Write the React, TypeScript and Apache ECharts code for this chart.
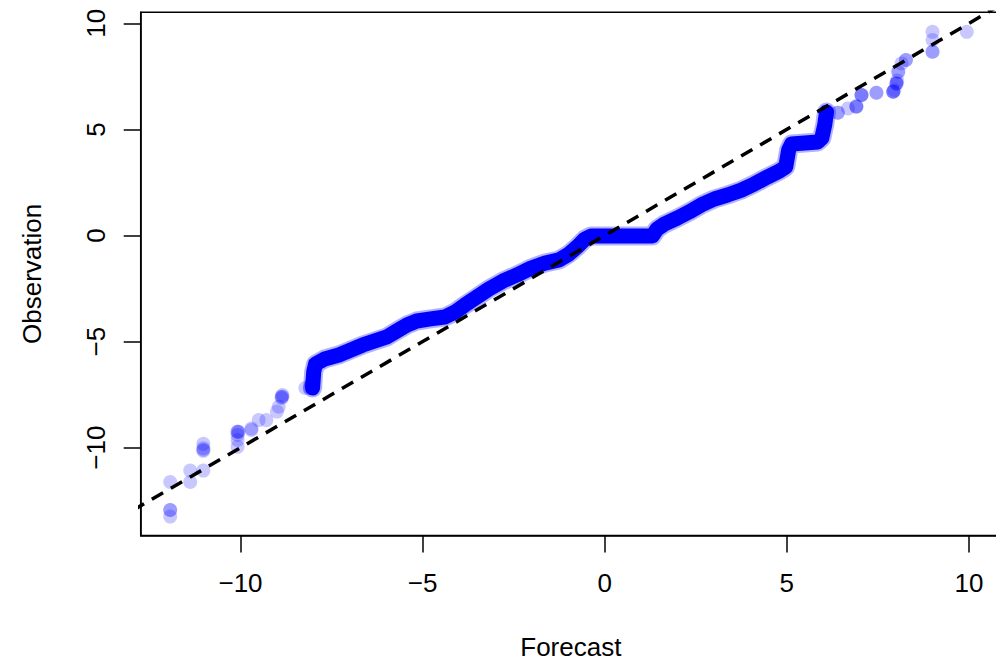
import React, { useEffect, useRef } from "react";
import * as echarts from "echarts";

// Dense part of the Q-Q curve (forecast quantile, observed quantile)
const fcstBand = [
  -8.02, -7.99, -7.94, -7.69, -7.3, -6.97, -6.64, -6.31, -5.98, -5.71, -5.43, -5.16, -4.78, -4.39,
  -4.11, -3.84, -3.51, -3.18, -2.79, -2.41, -2.02, -1.64, -1.25, -0.98, -0.76, -0.54, -0.37, 0,
  0.69, 1.31, 1.44, 1.64, 1.99, 2.32, 2.65, 3.01, 3.37, 3.75, 4.11, 4.47, 4.8, 4.97, 5.05, 5.13,
  5.49, 5.85, 5.96, 6.04, 6.09,
];
const obsBand = [
  -7.19, -6.43, -6.06, -5.82, -5.63, -5.4, -5.16, -4.97, -4.78, -4.5, -4.22, -4.03, -3.93, -3.84,
  -3.61, -3.28, -2.9, -2.52, -2.14, -1.86, -1.53, -1.3, -1.15, -0.87, -0.54, -0.16, -0.02, -0.02,
  -0.02, -0.02, 0.31, 0.54, 0.82, 1.11, 1.44, 1.72, 1.91, 2.14, 2.43, 2.76, 3.04, 3.23, 4.03, 4.31,
  4.36, 4.41, 4.59, 5.21, 5.82,
];

// Sparse quantile points in the tails
const fcstPts = [
  -11.93, -11.93, -11.93, -11.93, -11.38, -11.38, -11.02, -11.02, -11.02, -11.02, -11.02,
  -10.08, -10.05, -10.08, -10.08, -10.08, -10.08, -9.7, -9.7, -9.5, -9.29, -9.0, -8.95, -8.87, -8.87,
  -8.85, -8.85, -8.22, -8.1, -8.05, -8.05, -8.05, -8.05,
  6.4, 6.4, 6.68, 6.91, 6.91, 6.91, 7.05, 7.05, 7.05, 7.46, 7.46, 7.92, 7.92, 7.92, 7.95, 8.01, 8.01,
  8.01, 8.03, 8.06, 8.06, 8.15, 8.27, 8.27, 9.0, 9.0, 9.0, 9.0, 9.94,
];
const obsPts = [
  -11.62, -12.94, -12.94, -13.25, -11.08, -11.62, -9.82, -10.03, -10.1, -10.15, -11.08,
  -9.25, -9.25, -9.25, -9.4, -9.64, -9.96, -9.17, -9.1, -8.7, -8.7, -8.3, -8.07, -7.66, -7.6,
  -7.52, -7.6, -7.19, -7.19, -7.12, -6.95, -7.05, -7.05,
  5.79, 5.79, 5.99, 6.07, 6.07, 6.1, 6.62, 6.62, 6.62, 6.73, 6.73, 6.78, 6.78, 6.78, 6.85, 7.17, 7.17,
  7.17, 7.3, 7.72, 7.72, 8.11, 8.27, 8.27, 8.66, 8.66, 9.21, 9.6, 9.6,
];

// 1:1 reference line ends
const refLine = [-14, 11];

const xTicks = [-10, -5, 0, 5, 10];
const yTicks = [-10, -5, 0, 5, 10];

const FONT = "'Liberation Sans', Arial, Helvetica, sans-serif";

export default function App() {
  const ref = useRef<HTMLDivElement>(null);
  useEffect(() => {
    if (!ref.current) return;
    const chart = echarts.init(ref.current, null, { renderer: "svg" });
    const band = fcstBand.map((x, i) => [x, obsBand[i]]);
    const pts = fcstPts.map((x, i) => [x, obsPts[i]]);
    const fmt = (v: number) => (v < 0 ? "\u2212" + Math.abs(v) : String(v));
    const axisCommon = {
      type: "value" as const,
      splitLine: { show: false },
      axisLine: { show: true, onZero: false, lineStyle: { color: "#000", width: 1.5 } },
    };
    chart.setOption({
      animation: false,
      textStyle: { fontFamily: FONT },
      grid: {
        left: 140.7, right: -5, top: 12.3, bottom: 126.5,
        containLabel: false, outerBoundsMode: "none",
        show: true, borderColor: "#000", borderWidth: 1.5,
      },
      xAxis: {
        ...axisCommon,
        min: -12.74,
        max: 10.88,
        name: "Forecast",
        nameLocation: "middle",
        nameGap: 98,
        nameTextStyle: { fontSize: 26, color: "#000", fontFamily: FONT },
        axisTick: { show: true, customValues: xTicks, length: 17, lineStyle: { color: "#000", width: 1.5 } },
        axisLabel: { customValues: xTicks, fontSize: 26, color: "#000", margin: 34, fontFamily: FONT, formatter: fmt },
      },
      yAxis: {
        ...axisCommon,
        min: -14.14,
        max: 10.52,
        name: "Observation",
        nameLocation: "middle",
        nameRotate: 90,
        nameGap: 96,
        nameTextStyle: { fontSize: 26, color: "#000", fontFamily: FONT },
        axisTick: { show: true, customValues: yTicks, length: 17, lineStyle: { color: "#000", width: 1.5 } },
        axisLabel: { customValues: yTicks, rotate: 90, fontSize: 26, color: "#000", margin: 32, fontFamily: FONT, formatter: fmt },
      },
      series: [
        {
          type: "line",
          data: band,
          symbol: "none",
          z: 1,
          lineStyle: { color: "rgba(0,0,255,0.3)", width: 19, cap: "round", join: "round" },
        },
        {
          type: "line",
          data: band,
          symbol: "none",
          z: 2,
          lineStyle: { color: "#0000ff", width: 15, cap: "round", join: "round" },
        },
        {
          type: "scatter",
          data: pts,
          symbolSize: 14,
          z: 2,
          itemStyle: { color: "rgba(0,0,255,0.27)" },
        },
        {
          type: "line",
          data: [[refLine[0], refLine[0]], [refLine[1], refLine[1]]],
          symbol: "none",
          z: 5,
          lineStyle: { color: "#000", width: 3.5, type: [13, 9] },
        },
      ],
    });
    return () => chart.dispose();
  }, []);
  return <div ref={ref} style={{ position: "fixed", left: 0, top: 0, width: 996, height: 662, background: "#fff" }} />;
}
